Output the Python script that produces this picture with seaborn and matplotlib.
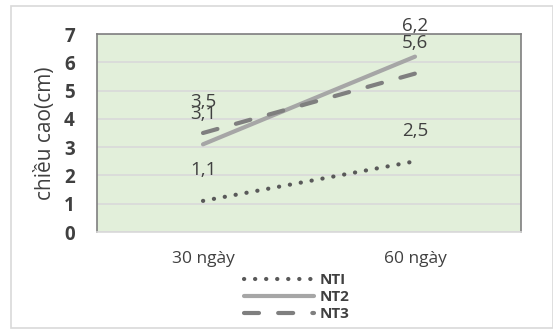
import matplotlib
matplotlib.use("Agg")
import matplotlib.pyplot as plt
import matplotlib.patches as mpatches
import seaborn as sns
import pandas as pd

# Data: plant height (cm) at two sampling times
days = ["30 ngày", "60 ngày"]
nt1 = [1.1, 2.5]
nt2 = [3.1, 6.2]
nt3 = [3.5, 5.6]
series_names = ["NTI", "NT2", "NT3"]
y_ticks = [0, 1, 2, 3, 4, 5, 6, 7]

df = pd.DataFrame({
    "day": days * 3,
    "pos": [0, 1] * 3,
    "height": nt1 + nt2 + nt3,
    "series": [s for s in series_names for _ in days],
})

sns.set_style("white")
plt.rcParams["font.family"] = ["Open Sans", "DejaVu Sans"]

W, H = 553, 330
fig = plt.figure(figsize=(W / 100, H / 100), dpi=100)
ax = fig.add_axes([97 / W, 1 - 232 / H, (521 - 97) / W, (232 - 34) / H])

styles = {
    "NTI": dict(color="#595959", linestyle=(0, (0.05, 2.6)), lw=3.0, dash_capstyle="round", solid_capstyle="round"),
    "NT2": dict(color="#A6A6A6", linestyle="-", lw=3.0, solid_capstyle="round"),
    "NT3": dict(color="#7F7F7F", linestyle=(0, (3.6, 4.6)), lw=3.0, dash_capstyle="round"),
}

for name in series_names:
    sub = df[df["series"] == name]
    st = styles[name]
    sns.lineplot(data=sub, x="pos", y="height", ax=ax, label=name,
                 color=st["color"], linewidth=st["lw"], legend=False)
    line = ax.lines[-1]
    line.set_linestyle(st["linestyle"])
    line.set_dash_capstyle(st.get("dash_capstyle", "butt"))
    line.set_solid_capstyle(st.get("solid_capstyle", "butt"))
    for xp, yv in zip(sub["pos"], sub["height"]):
        ax.annotate(f"{yv:.1f}".replace(".", ","), (xp, yv), xytext=(0, 22),
                    textcoords="offset points", ha="center", va="center",
                    fontsize=13.5, color="#404040")

ax.set_xlim(-0.5, 1.5)
ax.set_ylim(0, 7)
ax.set_facecolor("#E2EFDA")
ax.set_yticks(y_ticks)
ax.set_yticklabels([str(t) for t in y_ticks], fontsize=13.5, fontweight="bold", color="#404040")
ax.set_xticks([0, 1])
ax.set_xticklabels(days, fontsize=12.5, color="#404040")
ax.tick_params(axis="x", length=0, pad=14)
ax.tick_params(axis="y", length=0, pad=16)
ax.grid(axis="y", color="#D9D9D9", linewidth=1.2)
ax.set_axisbelow(True)
for side in ["left", "top", "right"]:
    ax.spines[side].set_color("#7F7F7F")
    ax.spines[side].set_linewidth(1.2)
ax.spines["bottom"].set_color("#D9D9D9")
ax.spines["bottom"].set_linewidth(1.2)
ax.set_xlabel("")
ax.set_ylabel("chiều cao(cm)", fontsize=15, color="#404040", labelpad=6)

handles = ax.get_lines()
leg = fig.legend(handles=handles, labels=series_names, loc="center left",
                 bbox_to_anchor=(236 / W, 1 - 297 / H), frameon=False,
                 handlelength=4.6, handletextpad=0.4, labelspacing=0.2,
                 borderpad=0, prop={"size": 11, "weight": "bold"})
for t in leg.get_texts():
    t.set_color("#404040")

fig.patches.append(mpatches.Rectangle((11 / W, 2 / H), (553 - 11) / W, (324 - 2) / H,
                                      transform=fig.transFigure, fill=False,
                                      edgecolor="#D9D9D9", linewidth=1.2))

fig.savefig("out.png", dpi=100)
